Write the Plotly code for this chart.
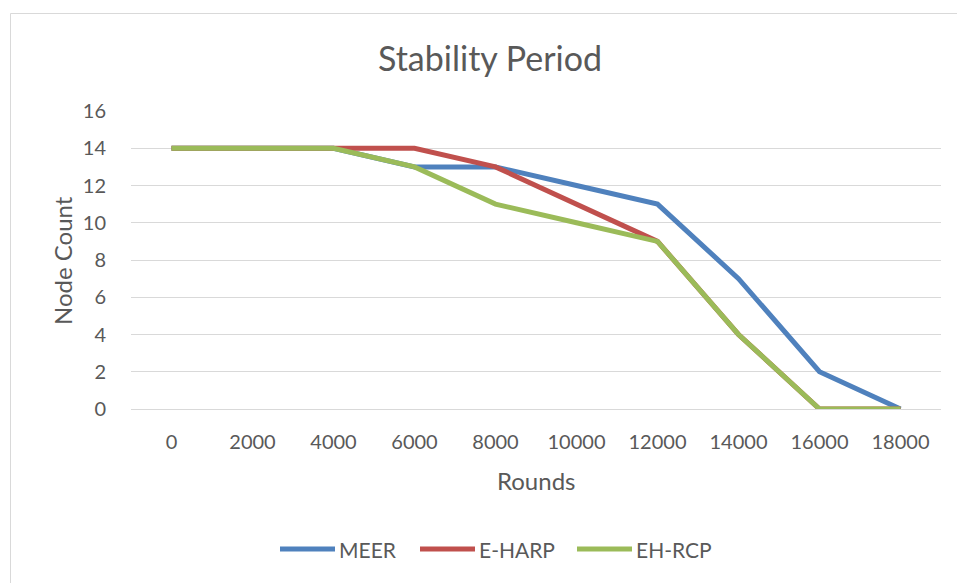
import plotly.graph_objects as go

rounds = ["0", "2000", "4000", "6000", "8000", "10000", "12000", "14000", "16000", "18000"]
meer = [14, 14, 14, 13, 13, 12, 11, 7, 2, 0]
eharp = [14, 14, 14, 14, 13, 11, 9, 4, 0, 0]
ehrcp = [14, 14, 14, 13, 11, 10, 9, 4, 0, 0]

series_names = ["MEER", "E-HARP", "EH-RCP"]
colors = ["#4F81BD", "#C0504D", "#9BBB59"]

W, H = 957, 583
L, R, T, B = 131, 16, 111, 174
pw, ph = W - L - R, H - T - B

FONT = "Lato, Carlito, 'Open Sans', sans-serif"
GREY = "#595959"

fig = go.Figure()
for name, vals, c in zip(series_names, [meer, eharp, ehrcp], colors):
    fig.add_trace(go.Scatter(
        x=rounds, y=vals, name=name, mode="lines",
        line=dict(color=c, width=5), showlegend=False,
    ))

def px_x(p):
    return (p - L) / pw

def px_y(p):
    return (T + ph - p) / ph

# manual legend (Excel style: long line swatch followed by label)
legend_starts = [280, 420, 577]
swatch_len = 55
legend_y = px_y(549)
shapes = [
    dict(type="rect", xref="paper", yref="paper",
         x0=px_x(10.5), x1=1.2, y0=-0.8, y1=px_y(13.5),
         line=dict(color="#D9D9D9", width=1), layer="below"),
]
annotations = [
    dict(text="Stability Period", x=px_x(490), y=px_y(58), xref="paper",
         yref="paper", showarrow=False, font=dict(size=34, color=GREY),
         xanchor="center", yanchor="middle"),
    dict(text="Rounds", x=px_x(536), y=px_y(480), xref="paper",
         yref="paper", showarrow=False, font=dict(size=24, color=GREY),
         xanchor="center", yanchor="middle"),
    dict(text="Node Count", x=px_x(62), y=px_y(261), xref="paper",
         yref="paper", showarrow=False, font=dict(size=24, color=GREY),
         textangle=-90, xanchor="center", yanchor="middle"),
]
for name, c, x0 in zip(series_names, colors, legend_starts):
    shapes.append(dict(type="line", xref="paper", yref="paper",
                       x0=px_x(x0), x1=px_x(x0 + swatch_len),
                       y0=legend_y, y1=legend_y,
                       line=dict(color=c, width=5)))
    annotations.append(dict(text=name, x=px_x(x0 + swatch_len + 2), y=legend_y,
                            xref="paper", yref="paper", showarrow=False,
                            xanchor="left", yanchor="middle",
                            font=dict(size=21, color=GREY)))

fig.update_layout(
    width=W, height=H,
    margin=dict(l=L, r=R, t=T, b=B),
    paper_bgcolor="white", plot_bgcolor="white",
    font=dict(family=FONT, color=GREY, size=20),
    showlegend=False,
    xaxis=dict(type="category", range=[-0.5, 9.5], showgrid=False,
               showline=False, zeroline=False, ticks="",
               ticklabelstandoff=19, tickfont=dict(size=20, color=GREY)),
    yaxis=dict(range=[0, 16], dtick=2, showgrid=True, gridcolor="#D9D9D9",
               gridwidth=1, zeroline=True, zerolinecolor="#D9D9D9",
               zerolinewidth=1, showline=False, ticks="",
               ticklabelstandoff=24, tickfont=dict(size=20, color=GREY)),
    annotations=annotations,
    shapes=shapes,
)

fig.write_html("out.html")
